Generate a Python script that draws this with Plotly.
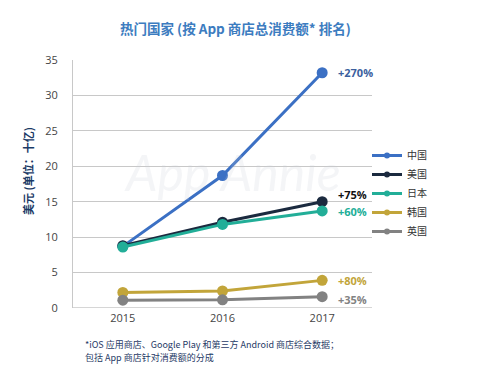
import plotly.graph_objects as go

years = [2015, 2016, 2017]
countries = ["中国", "美国", "日本", "韩国", "英国"]
china = [8.7, 18.7, 33.2]
usa = [8.8, 12.1, 15.0]
japan = [8.6, 11.8, 13.7]
korea = [2.2, 2.4, 3.9]
uk = [1.1, 1.15, 1.6]
growth = ["+270%", "+75%", "+60%", "+80%", "+35%"]
footnote = ["*iOS 应用商店、Google Play 和第三方 Android 商店综合数据；",
            "包括 App 商店针对消费额的分成"]

series = [china, usa, japan, korea, uk]
colors = ["#3b70c4", "#1b2a3f", "#22ae98", "#c2a53a", "#828282"]
label_colors = ["#3b5f9e", "#111111", "#22ae98", "#c2a53a", "#828282"]
label_shift = [0, 7, -1, 0, -3]

# screen-space plot box (browser body has an 8px margin)
OFF = 8
L, R, T, B = 73, 372, 60, 308
W, H = R - L, B - T


def px(x):
    return (x - L) / W


def py(y):
    return (B - y) / H


fig = go.Figure()
for name, vals, c in zip(countries, series, colors):
    fig.add_trace(go.Scatter(
        x=years, y=vals, name=name, mode="lines+markers",
        line=dict(color=c, width=3),
        marker=dict(color=c, size=11),
        showlegend=False,
    ))
# legend entries with small markers, as in the reference
for name, c in zip(countries, colors):
    fig.add_trace(go.Scatter(
        x=[None], y=[None], name=name, mode="lines+markers",
        line=dict(color=c, width=3),
        marker=dict(color=c, size=6),
        showlegend=True,
    ))

for vals, g, lc, s in zip(series, growth, label_colors, label_shift):
    fig.add_annotation(x=2017, y=vals[-1], text="<b>" + g + "</b>", showarrow=False,
                       xanchor="left", yanchor="middle", xshift=14, yshift=s,
                       font=dict(size=11, color=lc, family="Open Sans, sans-serif"))

fig.add_annotation(x=px(232), y=py(172), xref="paper", yref="paper", text="<i>App Annie</i>",
                   xanchor="center", yanchor="middle",
                   showarrow=False, font=dict(size=50, color="rgba(200,205,215,0.2)",
                                              family="Lato, sans-serif"))

fig.add_annotation(x=px(235), y=py(28), xref="paper", yref="paper",
                   xanchor="center", yanchor="middle",
                   text="<b>热门国家 (按 App 商店总消费额* 排名)</b>", showarrow=False,
                   font=dict(size=13.5, color="#3c7cc0", family="Noto Sans CJK SC, sans-serif"))

fig.add_annotation(x=px(28), y=py(171), xref="paper", yref="paper",
                   xanchor="center", yanchor="middle", textangle=-90,
                   text="<b>美元 (单位：十亿)</b>", showarrow=False,
                   font=dict(size=11, color="#1b3a66", family="Noto Sans CJK SC, sans-serif"))

for line, yc in zip(footnote, [344.5, 357.5]):
    fig.add_annotation(x=px(84), y=py(yc), xref="paper", yref="paper",
                       xanchor="left", yanchor="middle", align="left", borderpad=0,
                       text=line, showarrow=False,
                       font=dict(size=9, color="#1f3a66", family="Noto Sans CJK SC, sans-serif"))

fig.update_layout(
    width=479, height=388,
    margin=dict(l=L - OFF, r=479 + OFF - R, t=T - OFF, b=388 + OFF - B),
    paper_bgcolor="white", plot_bgcolor="white",
    showlegend=True,
    legend=dict(x=px(367), y=py(141), xanchor="left", yanchor="top",
                font=dict(size=10, color="#333333", family="Noto Sans CJK SC, sans-serif"),
                tracegroupgap=0, itemwidth=30, bgcolor="rgba(0,0,0,0)"),
    xaxis=dict(range=[2014.5, 2017.5], tickvals=years, ticktext=[str(y) for y in years],
               showgrid=False, zeroline=False, showline=False, automargin=False,
               ticklabelstandoff=2,
               tickfont=dict(size=11, color="#444444", family="Open Sans, sans-serif")),
    yaxis=dict(range=[0, 35], dtick=5, showgrid=True, gridcolor="#c8c8c8", gridwidth=1,
               zeroline=False, showline=True, linecolor="#c8c8c8", linewidth=1,
               ticks="", ticklabelstandoff=12, automargin=False,
               tickfont=dict(size=11, color="#444444", family="Open Sans, sans-serif")),
)
fig.add_shape(type="line", xref="paper", yref="y", x0=0, x1=1, y0=0, y1=0,
              line=dict(color="#c8c8c8", width=1.5))

fig.write_html("out.html")
